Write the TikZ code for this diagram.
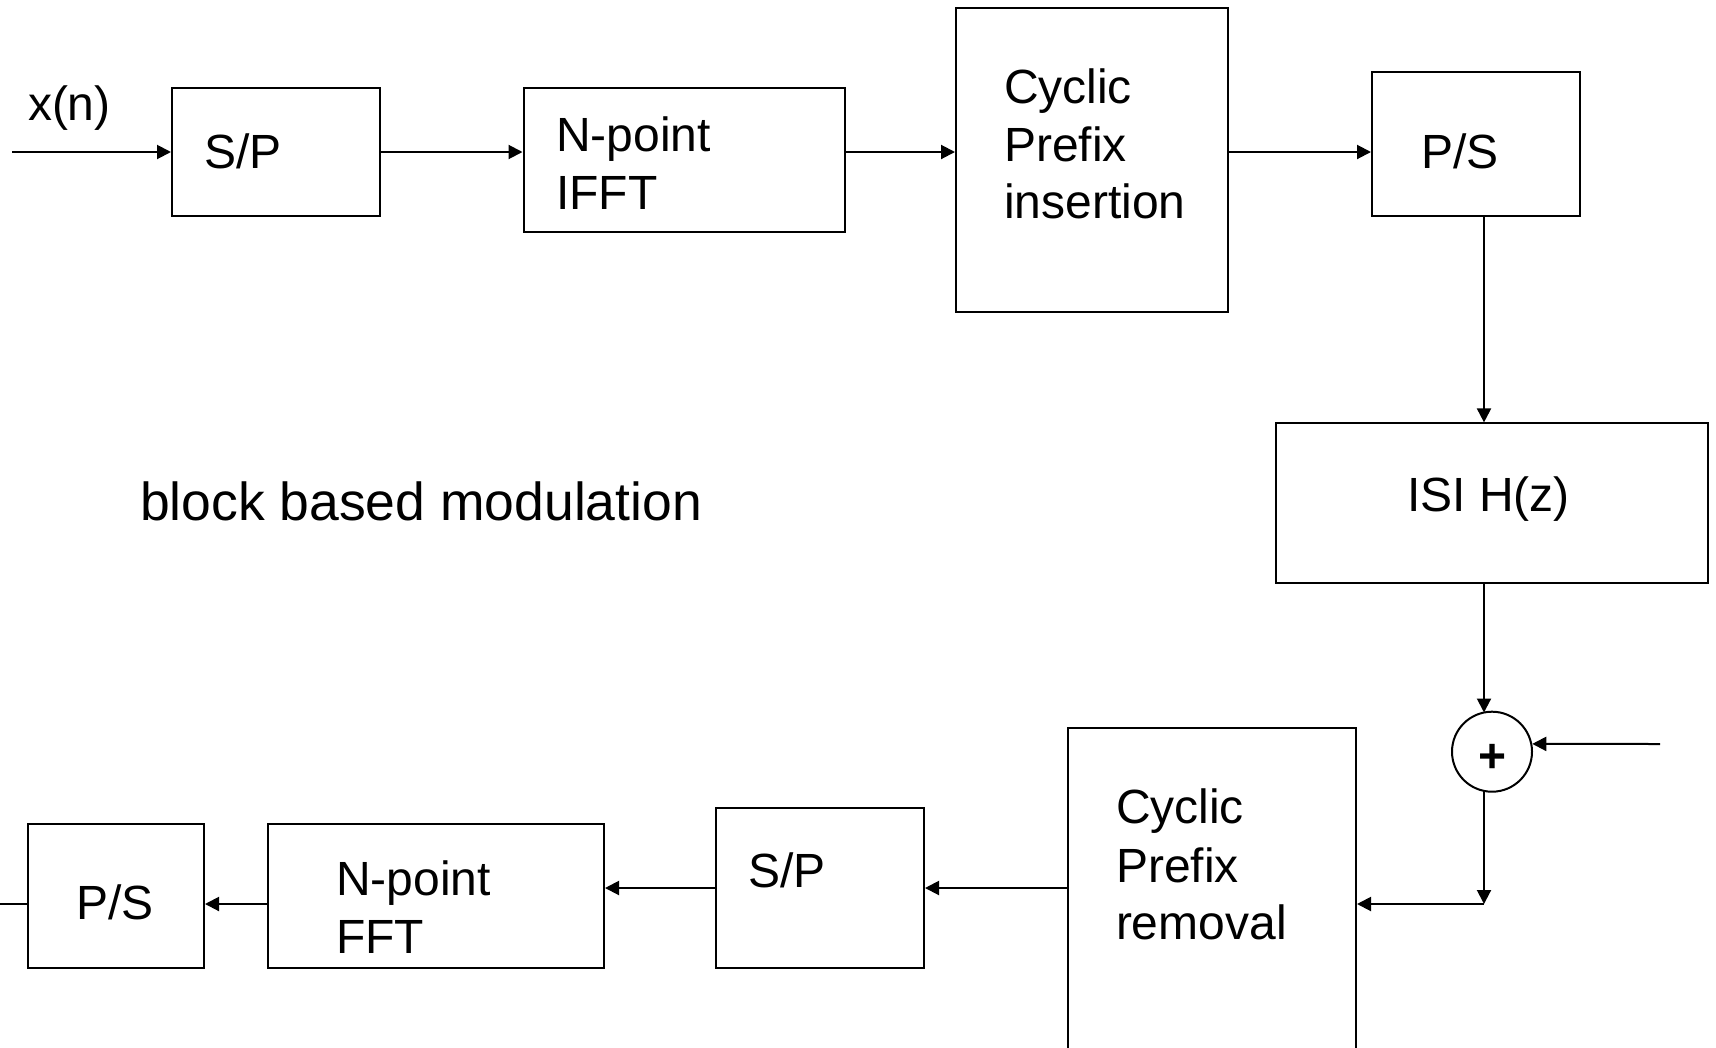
\documentclass[tikz,border=0pt]{standalone}
\usepackage{fontspec}
\setmainfont{Liberation Sans}
\usetikzlibrary{arrows.meta,calc}
\begin{document}
\begin{tikzpicture}[x=1pt,y=-1pt,
  line width=2pt,
  blk/.style={draw=black,line width=2pt,minimum width=#1,inner sep=0pt},
  lbl/.style={anchor=base west,inner sep=0pt,font=\fontsize{48}{58}\selectfont},
  arr/.style={-{Triangle[length=14pt,width=14pt]}}]
\useasboundingbox (0,0) rectangle (1716,1047);
\fill[white] (0,0) rectangle (1716,1047);
\begin{scope}
\clip (0,0) rectangle (1716,1047);
% transmitter
\node[blk=208pt,minimum height=128pt] (sp1) at (276,152) {};
\node[blk=321pt,minimum height=144pt] (ifft) at (684,160) {};
\node[blk=272pt,minimum height=304pt] (cpi) at (1092,159.5) {};
\node[blk=208pt,minimum height=144pt] (ps1) at (1476,144) {};
\node[blk=432pt,minimum height=160pt] (isi) at (1492,503.4) {};
\node[draw,circle,minimum size=80pt,inner sep=0pt] (sum) at (1492,751.7) {};
% receiver
\node[blk=288pt,minimum height=372pt] (cpr) at (1212,913.7) {};
\node[blk=208pt,minimum height=160pt] (sp2) at (820,888) {};
\node[blk=336pt,minimum height=144pt] (fft) at (436,896) {};
\node[blk=176pt,minimum height=144pt] (ps2) at (116,896) {};
% coordinates
\coordinate (in) at (12,152);
\coordinate (vx) at (1484,0);
\coordinate (noise) at (1660,744);
\coordinate (corner) at (1484,904);
\coordinate (out) at (0,904);
% labels
\node[lbl] (txn) at (27,120) {x(n)};
\node[lbl] (tsp1) at (203,168.3) {S/P};
\node[lbl] (tifa) at (555,151.7) {N-point};
\node[lbl] (tifb) at (555,209.3) {IFFT};
\node[lbl] (tcia) at (1003,103.3) {Cyclic};
\node[lbl] (tcib) at (1003,161.7) {Prefix};
\node[lbl] (tcic) at (1003,218.8) {insertion};
\node[lbl] (tps1) at (1420,168.5) {P/S};
\node[lbl] (tisi) at (1406,511.8) {ISI H(z)};
\node[lbl,font=\fontsize{53.5}{64}\selectfont] (tblk) at (139,520) {block based modulation};
\node[anchor=base,inner sep=0pt,font=\fontsize{48}{56}\bfseries] (tplus) at (1492,772.5) {+};
\node[lbl] (tcra) at (1115,823.3) {Cyclic};
\node[lbl] (tcrb) at (1115,882.7) {Prefix};
\node[lbl] (tcrc) at (1115,939.3) {removal};
\node[lbl] (tsp2) at (747,887.3) {S/P};
\node[lbl] (tffa) at (335,895) {N-point};
\node[lbl] (tffb) at (335,953.3) {FFT};
\node[lbl] (tps2) at (75,919.3) {P/S};
% connectors
\draw[arr] (in) -- (sp1.west);
\draw[arr] (sp1.east) -- (sp1.east -| ifft.west);
\draw[arr] (sp1.east -| ifft.east) -- (sp1.east -| cpi.west);
\draw[arr] (sp1.east -| cpi.east) -- (sp1.east -| ps1.west);
\draw[arr] (ps1.south -| vx) -- (isi.north -| vx);
\draw[arr] (isi.south -| vx) -- (1484,712.5);
\draw[arr] (noise) -- (sum.11);
\draw[arr] (1484,790.9) -- (corner);
\draw[arr] (corner) -- (corner -| cpr.east);
\draw[arr] (cpr.west |- sp2.east) -- (sp2.east);
\draw[arr] (sp2.west) -- (sp2.west -| fft.east);
\draw[arr] (fft.west |- corner) -- (ps2.east |- corner);
\draw (ps2.west |- corner) -- (out);
\end{scope}
\end{tikzpicture}
\end{document}
